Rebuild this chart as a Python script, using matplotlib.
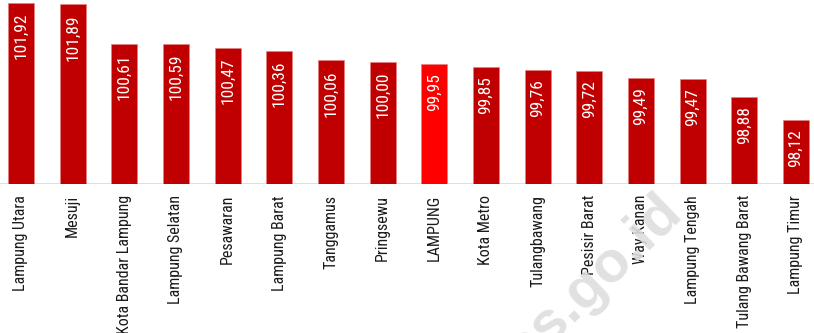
import matplotlib
matplotlib.use("Agg")
from matplotlib import pyplot as plt

kabupaten = ["Lampung Utara", "Mesuji", "Kota Bandar Lampung", "Lampung Selatan",
             "Pesawaran", "Lampung Barat", "Tanggamus", "Pringsewu", "LAMPUNG",
             "Kota Metro", "Tulangbawang", "Pesisir Barat", "Way Kanan",
             "Lampung Tengah", "Tulang Bawang Barat", "Lampung Timur"]
ntp = [101.92, 101.89, 100.61, 100.59, 100.47, 100.36, 100.06, 100.00, 99.95,
       99.85, 99.76, 99.72, 99.49, 99.47, 98.88, 98.12]
provinsi = "LAMPUNG"

plt.rcParams['font.family'] = ['Roboto Condensed', 'Archivo Narrow', 'Carlito', 'DejaVu Sans']

fig = plt.figure(figsize=(8.14, 3.33), dpi=100)
ax = fig.add_axes([0, 1 - 184 / 333, 1, 184 / 333])

x_axis = range(len(kabupaten))
colors = ["#FF0000" if k == provinsi else "#C00000" for k in kabupaten]
bottom = 96.03
heights = [v - bottom for v in ntp]
bars = ax.bar(x_axis, heights, bottom=bottom, width=0.5, color=colors,
              edgecolor="#e88080", linewidth=0.4, zorder=2)

for x, v in zip(x_axis, ntp):
    ax.annotate(f"{v:.2f}".replace(".", ","), (x, v), xytext=(0, -7),
                textcoords="offset points", rotation=90, ha="center", va="top",
                color="white", fontsize=12.5, zorder=3)

ax.set_xlim(-0.406, 15.35)
ax.set_ylim(bottom, 102.03)
ax.axhline(bottom, color="#d9d9d9", linewidth=1.2, zorder=1)

ax.set_xticks(list(x_axis))
ax.set_xticklabels(kabupaten, rotation=90, fontsize=11.5, color="#1a1a1a", va="top")
ax.tick_params(axis="x", length=0, pad=8)
ax.set_yticks([])
for spine in ax.spines.values():
    spine.set_visible(False)

# watermark
fig.text(684 / 814, 1 - 214 / 333, "bps.go.id", rotation=44, rotation_mode="anchor",
         ha="right", va="baseline", fontsize=42, fontweight="bold",
         color="#dedede", alpha=0.9, family="Liberation Sans", zorder=0)

fig.savefig("out.png", dpi=100)
